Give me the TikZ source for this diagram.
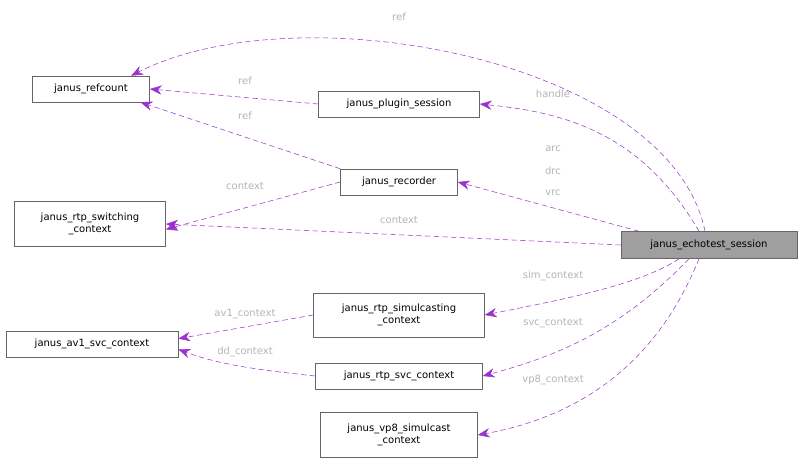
\documentclass[tikz,border=0pt]{standalone}
\usepackage{fontspec}
\setmainfont{DejaVu Sans}
\usetikzlibrary{arrows.meta}
\definecolor{edgecol}{HTML}{9A32CD}
\definecolor{labcol}{HTML}{B4B4B4}
\definecolor{boxline}{HTML}{666666}
\begin{document}
\begin{tikzpicture}[x=0.75pt, y=-0.75pt,
    every node/.style={font=\fontsize{7.5}{8.5}\selectfont},
    box/.style={draw=boxline, fill=white, inner sep=0pt, align=center},
    dep/.style={draw=edgecol, dash pattern=on 4pt off 2.5pt, -{Stealth[length=9pt, width=7pt]}},
    lab/.style={text=labcol}]
    \useasboundingbox (0,0) rectangle (802,464);
    % Nodes
    \node[box, minimum width=0.75*117pt, minimum height=0.75*26pt] (refcount) at (91,89) {janus\_refcount};
    \node[box, minimum width=0.75*161pt, minimum height=0.75*26pt] (plugin) at (399,104) {janus\_plugin\_session};
    \node[box, minimum width=0.75*117pt, minimum height=0.75*26pt] (recorder) at (399,182) {janus\_recorder};
    \node[box, minimum width=0.75*151pt, minimum height=0.75*45pt] (switching) at (90,224) {janus\_rtp\_switching\\\_context};
    \node[box, fill=gray!75, minimum width=0.75*176pt, minimum height=0.75*27pt] (echo) at (709,245) {janus\_echotest\_session};
    \node[box, minimum width=0.75*171pt, minimum height=0.75*44pt] (simulcast) at (399,315) {janus\_rtp\_simulcasting\\\_context};
    \node[box, minimum width=0.75*172pt, minimum height=0.75*26pt] (av1) at (92,344) {janus\_av1\_svc\_context};
    \node[box, minimum width=0.75*167pt, minimum height=0.75*26pt] (svc) at (399,376) {janus\_rtp\_svc\_context};
    \node[box, minimum width=0.75*157pt, minimum height=0.75*45pt] (vp8) at (399,435) {janus\_vp8\_simulcast\\\_context};

    % Edges
    \draw[dep] (echo.north) ++(-4,0) .. controls (670,60) and (300,-10) .. ([xshift=-14pt]refcount.north east);
    \draw[dep] (echo.north) ++(-10,0) .. controls (640,130) and (560,112) .. (plugin.east);
    \draw[dep] (echo.north) ++(-70,0) -- (recorder.east);
    \draw[dep] (echo.west) -- (switching.east);
    \draw[dep] (echo.south) ++(-30,0) .. controls (640,285) and (560,300) .. (simulcast.east);
    \draw[dep] (echo.south) ++(-20,0) .. controls (620,330) and (560,355) .. (svc.east);
    \draw[dep] (echo.south) ++(-10,0) .. controls (650,380) and (560,420) .. (vp8.east);
    \draw[dep] (plugin.west) -- (refcount.east);
    \draw[dep] (recorder.north west) -- ([xshift=-7pt]refcount.south east);
    \draw[dep] (recorder.west) -- ([yshift=-4pt]switching.east);
    \draw[dep] (simulcast.west) -- ([yshift=4pt]av1.east);
    \draw[dep] (svc.west) .. controls (260,370) and (220,365) .. ([yshift=-4pt]av1.east);

    % Labels
    \node[lab] at (399,17) {ref};
    \node[lab] at (553,94) {handle};
    \node[lab] at (553,149) {arc};
    \node[lab] at (553,171) {drc};
    \node[lab] at (553,193) {vrc};
    \node[lab] at (399,220) {context};
    \node[lab] at (553,276) {sim\_context};
    \node[lab] at (553,323) {svc\_context};
    \node[lab] at (553,380) {vp8\_context};
    \node[lab] at (245,81) {ref};
    \node[lab] at (245,116) {ref};
    \node[lab] at (245,186) {context};
    \node[lab] at (245,314) {av1\_context};
    \node[lab] at (245,352) {dd\_context};
\end{tikzpicture}
\end{document}
